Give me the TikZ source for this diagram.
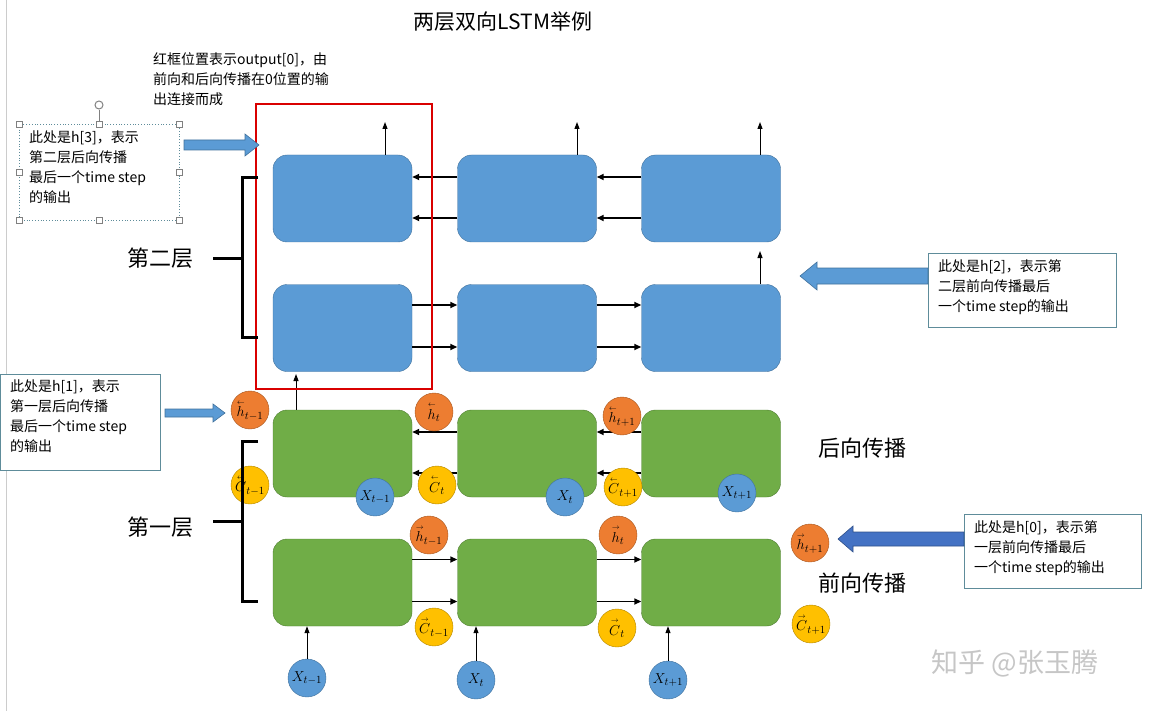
\documentclass[tikz,border=0pt]{standalone}
\usepackage{fontspec}
\usepackage{amsmath}
\newfontfamily\cjk{Noto Sans CJK SC}
\usetikzlibrary{arrows.meta}
\definecolor{cblue}{HTML}{5B9BD5}
\definecolor{cblueb}{HTML}{41719C}
\definecolor{cgreen}{HTML}{70AD47}
\definecolor{cgreenb}{HTML}{507E32}
\definecolor{corange}{HTML}{ED7D31}
\definecolor{cyellow}{HTML}{FFC000}
\definecolor{cdark}{HTML}{4472C4}
\definecolor{cbox}{HTML}{5E8C9A}
\newcommand{\lv}[1]{\overset{\scriptscriptstyle\leftarrow}{#1}}
\newcommand{\rv}[1]{\overset{\scriptscriptstyle\rightarrow}{#1}}
\begin{document}
\begin{tikzpicture}[x=1pt,y=-1pt,
  cell/.style={draw,rounded corners=14pt,minimum width=139pt,minimum height=87pt,inner sep=0},
  bc/.style={cell,fill=cblue,draw=cblueb},
  gc/.style={cell,fill=cgreen,draw=cgreenb},
  st/.style={circle,minimum size=38pt,inner sep=0,font=\fontsize{15}{15}\selectfont},
  hc/.style={st,fill=corange,draw=corange!70!black},
  cc/.style={st,fill=cyellow,draw=cyellow!70!black},
  xc/.style={st,fill=cblue,draw=cblueb},
  ar/.style={-{Triangle[length=7pt,width=6pt]},line width=1.6pt},
  up/.style={-{Triangle[length=7pt,width=5pt]},line width=1pt},
  note/.style={align=left,anchor=north west,font=\cjk\fontsize{14}{20}\selectfont,inner sep=0},
  big/.style={font=\cjk\fontsize{22}{22}\selectfont},
  fat/.style={fill=cblue,draw=cblueb,line width=0.6pt}]
\useasboundingbox (0,0) rectangle (1150,711);
\draw[gray!40] (6,0) -- (6,711);
% title
\node[font=\cjk\fontsize{21}{21}\selectfont] (title) at (503,22) {两层双向LSTM举例};
% cells
\foreach \c/\x in {1/342.5,2/527,3/711}{
  \node[bc] (a\c) at (\x,198.5) {};
  \node[bc] (b\c) at (\x,328) {};
  \node[gc] (c\c) at (\x,453.5) {};
  \node[gc] (d\c) at (\x,582.5) {};
}
% horizontal connections
\foreach \s/\t in {a2/a1,a3/a2,c2/c1,c3/c2}{
  \draw[ar] ([yshift=21.5pt]\s.west) -- ([yshift=21.5pt]\t.east);
  \draw[ar] ([yshift=-19.5pt]\s.west) -- ([yshift=-19.5pt]\t.east);
}
\foreach \s/\t in {b1/b2,b2/b3,d1/d2,d2/d3}{
  \draw[ar] ([yshift=23pt]\s.east) -- ([yshift=23pt]\t.west);
  \draw[ar] ([yshift=-19pt]\s.east) -- ([yshift=-19pt]\t.west);
}
% outputs
\coordinate (o1) at (385,122); \coordinate (o2) at (577,122); \coordinate (o3) at (760,122);
\coordinate (o4) at (760,251);
\draw[up] (a1.north -| o1) -- (o1);
\draw[up] (a2.north -| o2) -- (o2);
\draw[up] (a3.north -| o3) -- (o3);
\draw[up] (b3.north -| o4) -- (o4);
\coordinate (u1) at (296,374);
\draw[up] (c1.north -| u1) -- (u1);
% inputs
\node[xc] (x1) at (307,678) {$X_{t-1}$};
\node[xc] (x2) at (476,680) {$X_{t}$};
\node[xc] (x3) at (668,680) {$X_{t+1}$};
\foreach \i in {1,2,3} \draw[up] (x\i.north) -- (x\i.north |- d\i.south);
% state circles
\node[hc] (hb1) at (250,410) {$\lv{h}_{t-1}$};
\node[hc] (hb2) at (434,412) {$\lv{h}_{t}$};
\node[hc] (hb3) at (622,416) {$\lv{h}_{t+1}$};
\node[cc] (cb1) at (250,485) {$\lv{C}_{t-1}$};
\node[cc] (cb2) at (437,485) {$\lv{C}_{t}$};
\node[cc] (cb3) at (623,487) {$\lv{C}_{t+1}$};
\node[xc] (xb1) at (375,497) {$X_{t-1}$};
\node[xc] (xb2) at (565,497) {$X_{t}$};
\node[xc] (xb3) at (737,493) {$X_{t+1}$};
\node[hc] (hf1) at (429,535) {$\rv{h}_{t-1}$};
\node[hc] (hf2) at (618,535) {$\rv{h}_{t}$};
\node[hc] (hf3) at (810,543) {$\rv{h}_{t+1}$};
\node[cc] (cf1) at (434,627) {$\rv{C}_{t-1}$};
\node[cc] (cf2) at (617,628) {$\rv{C}_{t}$};
\node[cc] (cf3) at (811,624) {$\rv{C}_{t+1}$};
% red frame
\draw[red!85!black,line width=2.6pt] (256,104) rectangle (432,389);
% braces
\draw[line width=3pt] (258,178) -- (242,178) -- (242,337) -- (258,337);
\draw[line width=3pt] (242,258) -- (213,258);
\draw[line width=3pt] (258,441) -- (242,441) -- (242,601) -- (258,601);
\draw[line width=3pt] (242,521) -- (213,521);
\node[big] (l2) at (160,258) {第二层};
\node[big] (l1) at (160,527) {第一层};
\node[big] (bw) at (862,448) {后向传播};
\node[big] (fw) at (862,583) {前向传播};
% annotations
\node[note] (n0) at (153,52) {红框位置表示output[0]，由\\前向和后向传播在0位置的输\\出连接而成};
\draw[cbox,dotted,line width=0.8pt] (19,124) rectangle (179,220);
\foreach \p in {(19,124),(99,124),(179,124),(19,172),(179,172),(19,220),(99,220),(179,220)}
  \draw[gray,fill=white] \p ++(-3,-3) rectangle ++(6,6);
\draw[gray] (99,121) -- (99,110); \draw[gray,line width=1pt] (99,105) circle (4);
\node[note] (n3) at (29,131) {此处是h[3]，表示\\第二层后向传播\\最后一个time step\\的输出};
\draw[fat] (184,140) -- (245,140) -- (245,134) -- (259,145) -- (245,156) -- (245,150) -- (184,150) -- cycle;
\node[draw=cbox,fill=white,minimum width=188pt,minimum height=74pt,anchor=north west,inner sep=0] (f2) at (928,253) {};
\node[note] at (938,259) {此处是h[2]，表示第\\二层前向传播最后\\一个time step的输出};
\draw[fat] (928,268) -- (817,268) -- (817,262) -- (800,276) -- (817,290) -- (817,284) -- (928,284) -- cycle;
\node[draw=cbox,fill=white,minimum width=160pt,minimum height=96pt,anchor=north west,inner sep=0] (f1) at (0,374) {};
\node[note] at (10,380) {此处是h[1]，表示\\第一层后向传播\\最后一个time step\\的输出};
\draw[fat] (165,409) -- (213,409) -- (213,404) -- (225,413) -- (213,422) -- (213,417) -- (165,417) -- cycle;
\node[draw=cbox,fill=white,minimum width=177pt,minimum height=74pt,anchor=north west,inner sep=0] (f0) at (964,514) {};
\node[note] at (974,520) {此处是h[0]，表示第\\一层前向传播最后\\一个time step的输出};
\draw[fat,fill=cdark,draw=cdark!70!black] (964,532) -- (853,532) -- (853,526) -- (838,539) -- (853,552) -- (853,546) -- (964,546) -- cycle;
% watermark
\node[font=\cjk\fontsize{27}{27}\selectfont,text=gray!45] (wm) at (1015,663) {知乎 @张玉腾};
\end{tikzpicture}
\end{document}
